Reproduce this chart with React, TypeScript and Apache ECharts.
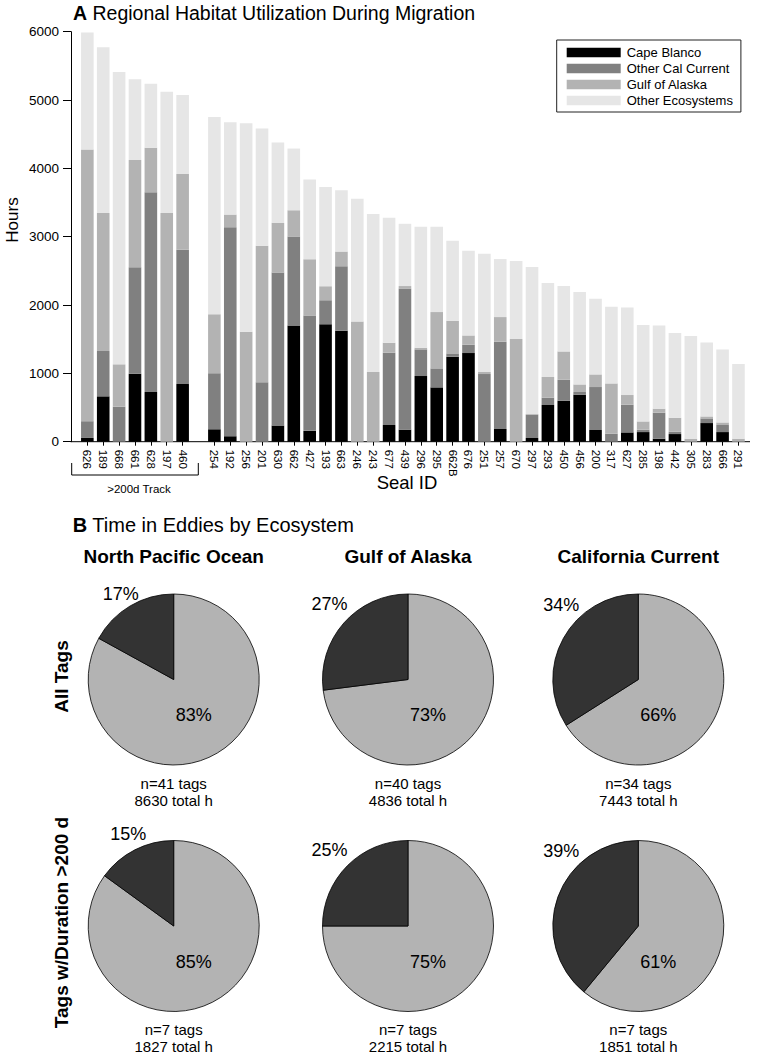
import React, { useEffect, useRef } from "react";
import * as echarts from "echarts";

// ---------- Panel A data ----------
const sealIds = [
  "626", "189", "668", "661", "628", "197", "460",
  "254", "192", "256", "201", "630", "662", "427", "193", "663", "246", "243",
  "677", "439", "296", "295", "662B", "676", "251", "257", "670", "297", "293",
  "450", "456", "200", "317", "627", "285", "198", "442", "305", "283", "666", "291",
];
const longTrackCount = 7; // first 7 tags: >200d track

const capeBlanco = [55, 664, 0, 995, 727, 0, 844, 182, 80, 0, 0, 237, 1700, 159, 1719, 1622, 0, 0, 244, 176, 961, 795, 1244, 1297, 0, 186, 0, 54, 537, 600, 688, 171, 0, 136, 141, 44, 112, 0, 273, 141, 0];
const otherCalCurrent = [245, 663, 512, 1557, 2923, 0, 1966, 820, 3060, 0, 870, 2238, 1302, 1687, 351, 946, 0, 0, 1058, 2067, 390, 278, 48, 122, 990, 1277, 0, 341, 107, 307, 39, 629, 117, 405, 35, 380, 34, 0, 68, 103, 0];
const gulfOfAlaska = [3975, 2020, 620, 1570, 652, 3347, 1108, 863, 184, 1608, 1996, 727, 385, 824, 205, 215, 1759, 1020, 146, 35, 24, 824, 478, 136, 30, 361, 1502, 10, 303, 414, 111, 185, 736, 142, 121, 59, 205, 44, 29, 38, 44];
const otherEcosystems = [1715, 2425, 4278, 1181, 937, 1775, 1156, 2885, 1352, 3052, 1716, 1175, 903, 1166, 1454, 897, 1795, 2314, 1829, 911, 1770, 1248, 1171, 1239, 1730, 849, 1141, 2151, 1375, 957, 1352, 1107, 1122, 1282, 1410, 1219, 1239, 1502, 1083, 1068, 1093];

const seriesNames = ["Cape Blanco", "Other Cal Current", "Gulf of Alaska", "Other Ecosystems"];
const yTicks = [0, 1000, 2000, 3000, 4000, 5000, 6000];

// ---------- Panel B data ----------
const ecosystems = ["North Pacific Ocean", "Gulf of Alaska", "California Current"];
const tagGroups = ["All Tags", "Tags w/Duration >200 d"];
const pctInEddy = [17, 27, 34, 15, 25, 39];
const pctOutEddy = [83, 73, 66, 85, 75, 61];
const nTags = [41, 40, 34, 7, 7, 7];
const totalHours = [8630, 4836, 7443, 1827, 2215, 1851];

// ---------- style ----------
const FONT = "Liberation Sans, Arial, Helvetica, sans-serif";
const barColors = ["#000000", "#808080", "#b3b3b3", "#e6e6e6"];
const pieColors = ["#b3b3b3", "#333333"];

function withGap<T>(arr: T[], gap: any): any[] {
  return [...arr.slice(0, longTrackCount), gap, ...arr.slice(longTrackCount)];
}

export default function App() {
  const ref = useRef<HTMLDivElement>(null);
  useEffect(() => {
    if (!ref.current) return;
    const chart = echarts.init(ref.current, null, { renderer: "svg" });

    const categories = withGap(sealIds, "");
    const values = [capeBlanco, otherCalCurrent, gulfOfAlaska, otherEcosystems];

    const gridTop = 31.7;
    const gridBottomY = 441.7;
    const barSeries = values.map((v, i) => ({
      type: "bar",
      name: seriesNames[i],
      stack: "total",
      data: withGap(v, "-"),
      barWidth: 12.6,
      itemStyle: { color: barColors[i] },
      silent: true,
    }));

    const colX = [173.7, 408, 638.3];
    const rowY = [679.5, 926];
    const radius = 85.5;
    const bigOffset = [20, 35.5];
    const smallOffsets = [
      [-53, -86], [-78.5, -75.5], [-77, -74.5],
      [-45.5, -92], [-78.5, -76], [-77, -75.5],
    ];

    const pieSeries: any[] = [];
    const pieTexts: any[] = [];
    for (let k = 0; k < 6; k++) {
      const cx = colX[k % 3];
      const cy = rowY[Math.floor(k / 3)];
      pieSeries.push({
        type: "pie",
        center: [cx, cy],
        radius: radius,
        startAngle: 90,
        clockwise: true,
        silent: true,
        data: [
          { name: "Outside eddies", value: pctOutEddy[k], itemStyle: { color: pieColors[0] } },
          { name: "In eddies", value: pctInEddy[k], itemStyle: { color: pieColors[1] } },
        ],
        itemStyle: { borderColor: "#000", borderWidth: 0.8 },
        label: {
          show: true,
          position: "inside",
          formatter: "{c}%",
          fontFamily: FONT,
          fontSize: 18,
          color: "#000",
        },
        labelLine: { show: false },
        labelLayout: (p: any) => {
          const off = p.dataIndex === 0 ? bigOffset : smallOffsets[k];
          return { x: cx + off[0], y: cy + off[1], align: "center", verticalAlign: "middle" };
        },
      });
      pieTexts.push({
        type: "text",
        x: cx,
        y: cy + radius + 9.5,
        style: {
          text: `n=${nTags[k]} tags\n${totalHours[k]} total h`,
          fontFamily: FONT,
          fontSize: 15,
          lineHeight: 17,
          fill: "#000",
          textAlign: "center",
          textVerticalAlign: "top",
        },
      });
    }

    const graphics: any[] = [
      {
        type: "text",
        x: 73,
        y: 13,
        style: {
          text: "{b|A} Regional Habitat Utilization During Migration",
          rich: { b: { fontWeight: "bold", fontSize: 19.5, fontFamily: FONT, fill: "#000" } },
          fontFamily: FONT,
          fontSize: 19.5,
          fill: "#000",
          textVerticalAlign: "middle",
        },
      },
      {
        type: "line",
        shape: { x1: 70.5, y1: gridBottomY, x2: 750, y2: gridBottomY },
        style: { stroke: "#000", lineWidth: 1 },
        silent: true,
      },
      {
        type: "polyline",
        shape: { points: [[71.7, 463], [71.7, 475], [198.3, 475], [198.3, 463]] },
        style: { stroke: "#000", lineWidth: 1, fill: null },
        silent: true,
      },
      {
        type: "text",
        x: 139,
        y: 489,
        style: { text: ">200d Track", fontFamily: FONT, fontSize: 11.5, fill: "#000", textAlign: "center", textVerticalAlign: "middle" },
      },
      {
        type: "text",
        x: 407,
        y: 482,
        style: { text: "Seal ID", fontFamily: FONT, fontSize: 18.5, fill: "#000", textAlign: "center", textVerticalAlign: "middle" },
      },
      {
        type: "text",
        x: 12,
        y: 220,
        rotation: Math.PI / 2,
        style: { text: "Hours", fontFamily: FONT, fontSize: 17, fill: "#000", textAlign: "center", textVerticalAlign: "middle" },
      },
      {
        type: "text",
        x: 72.7,
        y: 525,
        style: {
          text: "{b|B} Time in Eddies by Ecosystem",
          rich: { b: { fontWeight: "bold", fontSize: 20, fontFamily: FONT, fill: "#000" } },
          fontFamily: FONT,
          fontSize: 20,
          fill: "#000",
          textVerticalAlign: "middle",
        },
      },
      ...ecosystems.map((e, i) => ({
        type: "text",
        x: colX[i],
        y: 556.7,
        style: { text: e, fontFamily: FONT, fontSize: 19, fontWeight: "bold", fill: "#000", textAlign: "center", textVerticalAlign: "middle" },
      })),
      ...tagGroups.map((g, i) => ({
        type: "text",
        x: 61,
        y: i === 0 ? 676.5 : 922.5,
        rotation: Math.PI / 2,
        style: { text: g, fontFamily: FONT, fontSize: 19, fontWeight: "bold", fill: "#000", textAlign: "center", textVerticalAlign: "middle" },
      })),
      ...pieTexts,
    ];

    const option: any = {
      animation: false,
      backgroundColor: "#fff",
      textStyle: { fontFamily: FONT },
      grid: { left: 79.4, top: gridTop, width: 667, height: gridBottomY - gridTop, containLabel: false },
      legend: {
        data: seriesNames,
        orient: "vertical",
        left: 556.7,
        top: 40,
        padding: [6, 8, 5, 10],
        itemGap: 3,
        itemWidth: 54,
        itemHeight: 9.5,
        icon: "rect",
        borderColor: "#222",
        borderWidth: 1,
        selectedMode: false,
        textStyle: { fontFamily: FONT, fontSize: 13, color: "#000", padding: [0, 0, 0, 1] },
      },
      xAxis: {
        type: "category",
        data: categories,
        axisLine: { show: false },
        axisTick: {
          show: true,
          alignWithLabel: true,
          length: 4,
          interval: (i: number, v: string) => v !== "",
          lineStyle: { color: "#000" },
        },
        axisLabel: {
          interval: 0,
          rotate: -90,
          margin: 8,
          fontFamily: FONT,
          fontSize: 11.5,
          color: "#000",
        },
      },
      yAxis: {
        type: "value",
        min: yTicks[0],
        max: yTicks[yTicks.length - 1],
        interval: 1000,
        offset: 8.4,
        axisLine: { show: true, lineStyle: { color: "#000" } },
        axisTick: { show: true, length: 8, lineStyle: { color: "#000" } },
        axisLabel: {
          fontFamily: FONT,
          fontSize: 13.5,
          color: "#000",
          margin: 12,
          formatter: (v: number) => String(v),
        },
        splitLine: { show: false },
      },
      series: [...barSeries, ...pieSeries],
      graphic: graphics,
    };
    chart.setOption(option);
    return () => chart.dispose();
  }, []);
  return <div ref={ref} style={{ position: "absolute", left: 0, top: 0, width: 758, height: 1055 }} />;
}
